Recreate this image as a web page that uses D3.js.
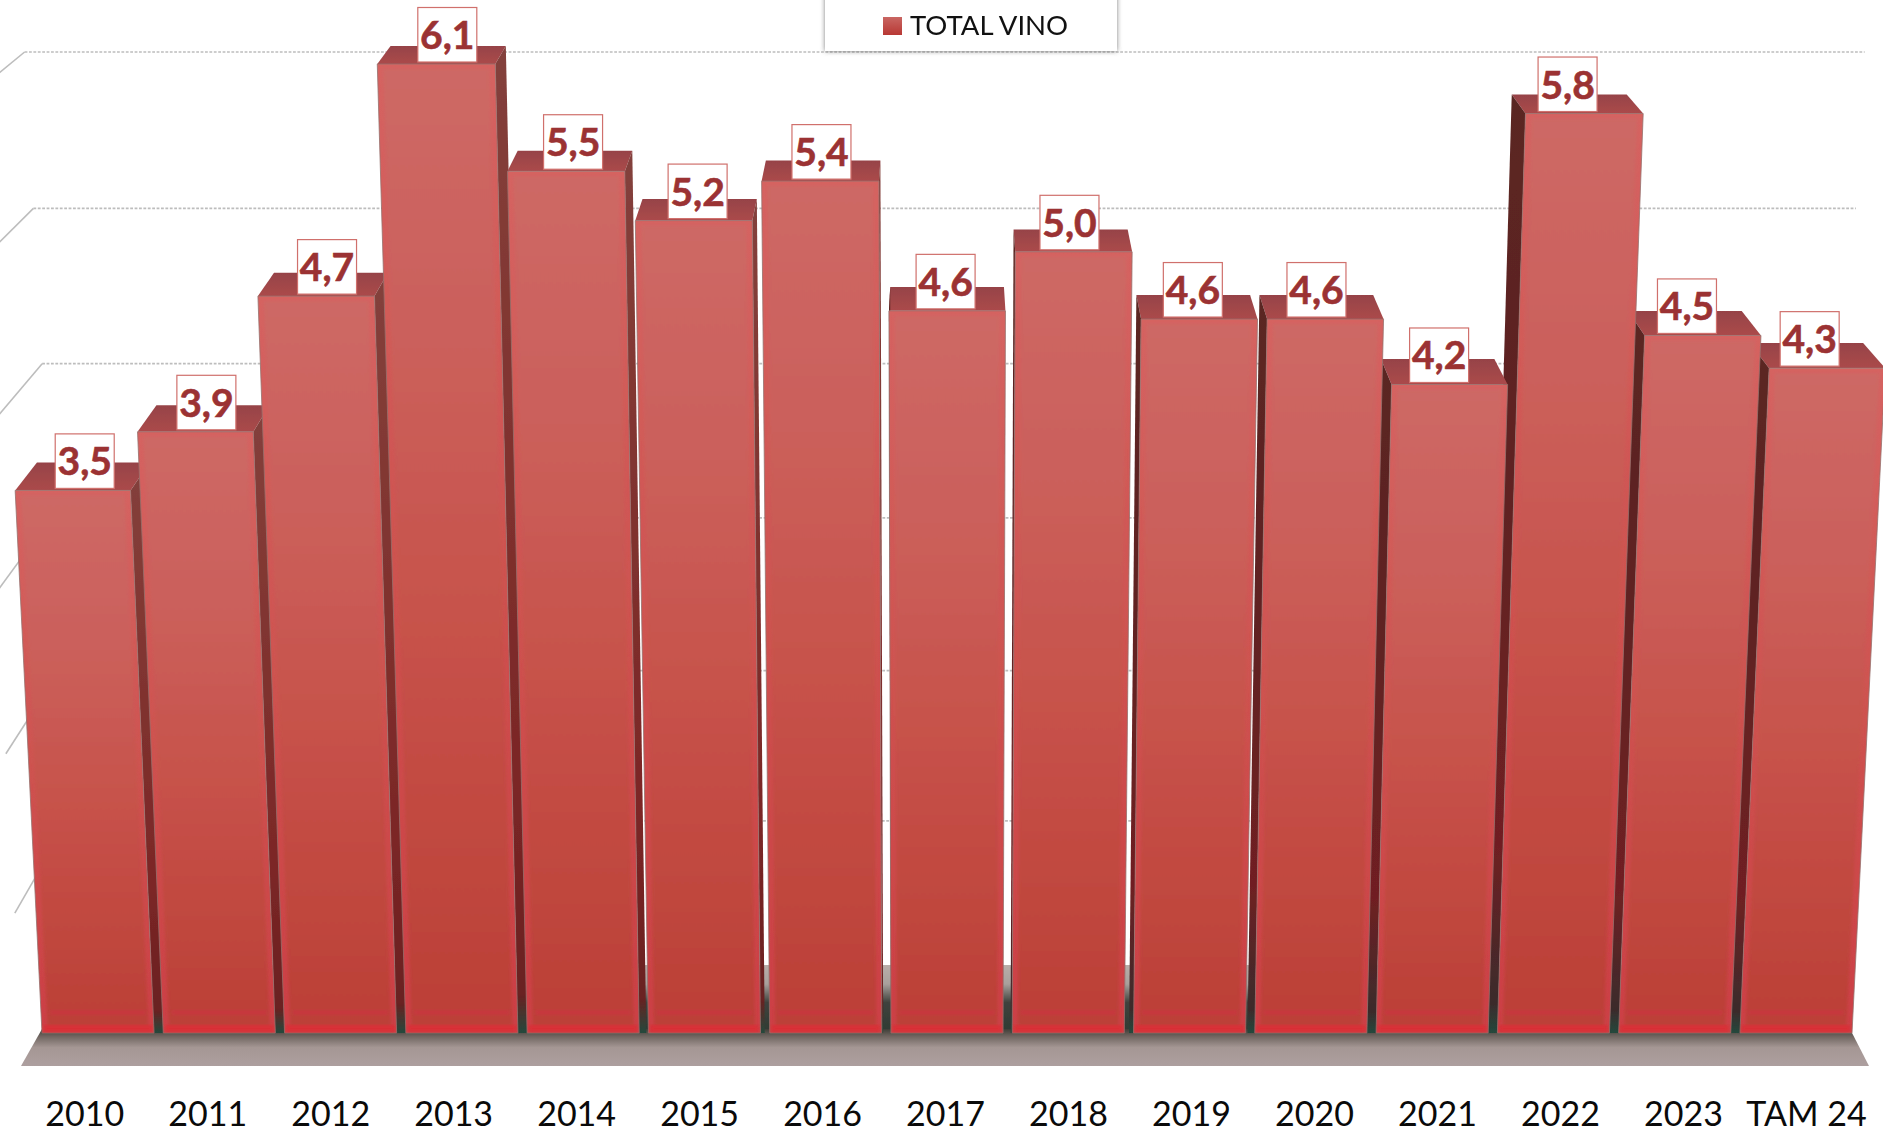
<!DOCTYPE html>
<html><head><meta charset="utf-8">
<script src="https://cdnjs.cloudflare.com/ajax/libs/d3/7.8.5/d3.min.js"></script>
<style>html,body{margin:0;padding:0;background:#fff;overflow:hidden}svg{display:block}text{font-family:Lato,"Noto Sans",sans-serif}</style>
</head><body><svg id="c" width="1883" height="1133"></svg>
<script>
const categories=["2010","2011","2012","2013","2014","2015","2016","2017","2018","2019","2020","2021","2022","2023","TAM 24"];
const values=[3.5,3.86,4.69,6.1,5.45,5.15,5.39,4.6,4.96,4.55,4.55,4.15,5.8,4.45,4.25];
const gridTicks=[1,2,3,4,5,6];
const seriesName="TOTAL VINO";

const W=1883,H=1133,svg=d3.select("#c");
const vp={x:942,y:-700};      // vanishing point of the 3D box
const persp=5.5e-5, depth=0.0235, wallPersp=6.5e-5;
const baseY=1033, floorFront=1066, floorBack=965;

const xBand=d3.scaleBand().domain(categories).range([42,1852]).paddingInner(0.076);
const y=d3.scalePow().exponent(1.03).domain([0,6.1]).range([1042.6,64]);
const yWall=d3.scalePow().exponent(1.03).domain([0,6]).range([floorBack,52]);
const fmt=v=>(Math.round(v*10+1e-9)/10).toFixed(1).replace(".",",");

const lift=(x,py)=>vp.x+(x-vp.x)*(1+persp*(baseY-py));
const back=p=>[p[0]+(vp.x-p[0])*depth,p[1]+(vp.y-p[1])*depth];
const wallX=(x,py)=>vp.x+(x-vp.x)*(1+wallPersp*(floorBack-py));

const defs=svg.append("defs");
function grad(id,stops,x2=0,y2=1){
  const g=defs.append("linearGradient").attr("id",id).attr("x1",0).attr("y1",0).attr("x2",x2).attr("y2",y2);
  stops.forEach(s=>g.append("stop").attr("offset",s[0]).attr("stop-color",s[1]));
}
grad("face",[[0,"#cd6865"],[.3,"#cb5f5a"],[.62,"#c65048"],[.93,"#bd4239"],[1,"#bc4038"]]);
grad("faceEdge",[[0,"#d56361"],[.5,"#ce5350"],[1,"#cc3f45"]]);
grad("sideL",[[0,"#83403c"],[.25,"#823833"],[.75,"#7b2626"],[.96,"#6a2020"],[1,"#24483c"]]);
grad("sideR",[[0,"#5a2622"],[.4,"#5f2222"],[.8,"#701f22"],[.97,"#3a2c2c"],[1,"#24483c"]]);
grad("top",[[0,"#964347"],[1,"#ab4a4b"]]);
grad("floor",[[0,"#3f3f38"],[.2,"#6f6560"],[.5,"#a59794"],[1,"#ad9f9f"]]);
grad("floorBack",[[0,"#b9aeaa"],[.28,"#a8a09c"],[.55,"#3f423d"],[1,"#2e3a33"]]);
grad("swatch",[[0,"#c96662"],[1,"#b83834"]]);
const blur=defs.append("filter").attr("id","sh").attr("x","-5%").attr("y","-20%").attr("width","110%").attr("height","140%");
blur.append("feDropShadow").attr("dx",0).attr("dy",0).attr("stdDeviation",2.5).attr("flood-color","#555").attr("flood-opacity",.75);
const soft=defs.append("filter").attr("id","soft").attr("x","-10%").attr("y","-10%").attr("width","120%").attr("height","120%");
soft.append("feGaussianBlur").attr("stdDeviation",1.4);
const soft2=defs.append("filter").attr("id","soft2").attr("x","-2%").attr("y","-2%").attr("width","104%").attr("height","104%");
soft2.append("feGaussianBlur").attr("stdDeviation",.6);

// back wall grid lines and left wall diagonals
const gridG=svg.append("g").attr("stroke","#bdbdbd").attr("fill","none");
gridG.selectAll("line.h").data(gridTicks).join("line").attr("class","h")
  .attr("x1",d=>wallX(76,yWall(d))).attr("x2",d=>wallX(1813,yWall(d)))
  .attr("y1",d=>yWall(d)).attr("y2",d=>yWall(d))
  .attr("stroke-width",1.7).attr("stroke-dasharray","2.8 1.6");
gridG.selectAll("line.d").data(gridTicks).join("line").attr("class","d")
  .attr("x1",d=>wallX(76,yWall(d))).attr("y1",d=>yWall(d))
  .attr("x2",d=>vp.x+(wallX(76,yWall(d))-vp.x)*1.0607)
  .attr("y2",d=>vp.y+(yWall(d)-vp.y)*1.0607)
  .attr("stroke-width",1.6);

// floor
const fl=[21,1869];
const floorG=svg.append("g").attr("filter","url(#soft2)");
floorG.append("polygon").attr("fill","url(#floorBack)")
  .attr("points",[[76,floorBack],[1813,floorBack],[fl[1]-19,baseY],[fl[0]+21,baseY]].join(" "));
floorG.append("polygon").attr("fill","url(#floor)")
  .attr("points",[[fl[0]+21,baseY-4],[fl[1]-19,baseY-4],[fl[1],floorFront],[fl[0],floorFront]].join(" "));

// bars, outermost first so that inner faces cover the neighbour's side
const rows=categories.map((c,i)=>{
  const xl=xBand(c),xr=xl+xBand.bandwidth(),t=y(values[i]);
  return {c,v:values[i],bl:[xl,baseY],br:[xr,baseY],tl:[lift(xl,t),t],tr:[lift(xr,t),t],mid:(xl+xr)/2};
}).sort((a,b)=>Math.abs(b.mid-vp.x)-Math.abs(a.mid-vp.x));

const bars=svg.append("g").attr("filter","url(#soft2)").selectAll("g").data(rows).join("g");
const pts=a=>a.map(p=>p.join(",")).join(" ");
bars.append("polygon").attr("fill","url(#top)")
  .attr("points",d=>pts([d.tl,d.tr,back(d.tr),back(d.tl)]));
bars.append("polygon").attr("fill",d=>d.mid<vp.x?"url(#sideL)":"url(#sideR)")
  .attr("points",d=>{
    const a=d.mid<vp.x?d.tr:d.tl,b=d.mid<vp.x?d.br:d.bl;
    return pts([a,back(a),[back(b)[0],baseY],b]);
  });
bars.append("polygon").attr("fill","url(#faceEdge)").attr("stroke","#96716d").attr("stroke-width",.8)
  .attr("points",d=>pts([d.tl,d.tr,d.br,d.bl]));
const ins=(d,a,b,c)=>{ // point on the face: a across, b down (0..1)
  const l=[d.tl[0]+(d.bl[0]-d.tl[0])*b,d.tl[1]+(baseY-d.tl[1])*b];
  const r=[d.tr[0]+(d.br[0]-d.tr[0])*b];
  return [l[0]+(r[0]-l[0])*a,l[1]+c];
};
bars.append("polygon").attr("fill","url(#face)").attr("filter","url(#soft)")
  .attr("points",d=>pts([ins(d,.05,0,5),ins(d,.95,0,5),ins(d,.95,1,-7),ins(d,.05,1,-7)]));
bars.append("rect").attr("fill","#cf3345").attr("opacity",.55).attr("filter","url(#soft)")
  .attr("x",d=>d.bl[0]+8).attr("width",d=>d.br[0]-d.bl[0]-16).attr("y",baseY-23).attr("height",5);
bars.append("rect").attr("fill","#da2d36").attr("opacity",.9).attr("filter","url(#soft)")
  .attr("x",d=>d.bl[0]+2).attr("width",d=>d.br[0]-d.bl[0]-4).attr("y",baseY-8).attr("height",7);

// data labels
const axisX=c=>vp.x+(xBand(c)+xBand.bandwidth()/2-vp.x)*1.014-1.5;
const labelSpread=.005, labelRef=3.5;
const labels=svg.append("g").selectAll("g").data(rows).join("g")
  .attr("transform",d=>{
    const a=axisX(d.c);
    return `translate(${a+(a-vp.x)*labelSpread*(d.v-labelRef)},${d.tl[1]-2})`;
  });
labels.append("rect").attr("x",-29.5).attr("y",-54.5).attr("width",59).attr("height",54.5)
  .attr("fill","#fff").attr("stroke","#d0706c").attr("stroke-width",1.2);
labels.append("text").attr("text-anchor","middle").attr("y",-13)
  .attr("font-size",39).attr("font-weight",700).attr("fill","#9b3233")
  .attr("stroke","#9b3233").attr("stroke-width",.6).text(d=>fmt(d.v));

// category axis, on the front plane of the floor
svg.append("g").selectAll("text").data(categories).join("text")
  .attr("text-anchor","middle").attr("x",axisX).attr("y",1126)
  .attr("font-size",34).attr("fill","#0a0a0a").text(d=>d);

// legend
const leg=svg.append("g");
leg.append("rect").attr("x",825).attr("y",-10).attr("width",292).attr("height",61).attr("fill","#fff").attr("filter","url(#sh)");
leg.append("rect").attr("x",883).attr("y",17).attr("width",19).attr("height",18).attr("fill","url(#swatch)");
leg.append("text").attr("x",910).attr("y",35).attr("font-size",27.5).attr("fill","#111").text(seriesName);
</script></body></html>
